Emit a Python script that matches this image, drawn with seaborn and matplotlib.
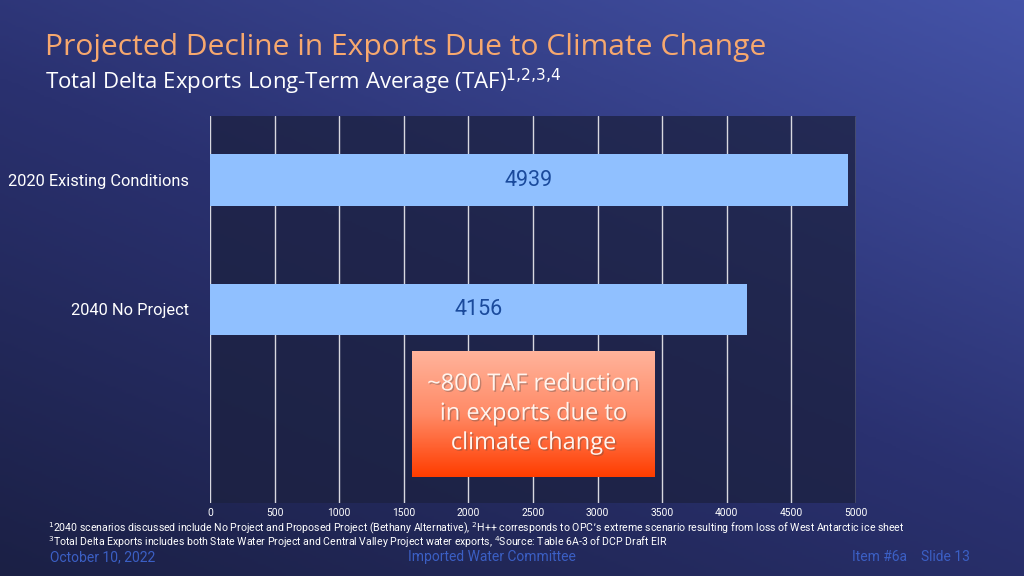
import numpy as np
import pandas as pd
import seaborn as sns
import matplotlib.pyplot as plt
from matplotlib.colors import LinearSegmentedColormap
import matplotlib.patheffects as pe

# dados do gráfico
cenarios = ['2020 Existing Conditions', '2040 No Project']
exportacoes = [4939, 4156]
ticks_x = [0, 500, 1000, 1500, 2000, 2500, 3000, 3500, 4000, 4500, 5000]

df = pd.DataFrame({'cenario': cenarios, 'taf': exportacoes})

sns.set_theme(style='white')
plt.rcParams['font.family'] = ['Roboto', 'DejaVu Sans']

fig = plt.figure(figsize=(10.24, 5.76), dpi=100)

# fundo em degradê (escuro embaixo à esquerda, azul em cima à direita)
bg = fig.add_axes([0, 0, 1, 1], zorder=-10)
gx, gy = np.meshgrid(np.linspace(0, 1, 256), np.linspace(0, 1, 256))
grad = np.clip(0.55 * gx + 0.75 * (1 - gy), 0, 1.3) / 1.3
cmap_bg = LinearSegmentedColormap.from_list('bg', ['#1b2045', '#2a3170', '#4453a8'])
bg.imshow(grad, cmap=cmap_bg, aspect='auto', extent=[0, 1, 0, 1], origin='upper')
bg.axis('off')

ax = fig.add_axes([0.205, 0.127, 0.631, 0.672])
ax.set_facecolor((0.11, 0.13, 0.25, 0.75))

sns.barplot(data=df, x='taf', y='cenario', orient='h', color='#90c0ff',
            width=0.4, saturation=1, ax=ax, zorder=3, edgecolor='none', linewidth=0)

ax.set_xlim(0, 5000)
ax.set_ylim(2.5, -0.5)
ax.set_xticks(ticks_x)
ax.set_xticklabels([str(t) for t in ticks_x], fontsize=7.4, color='white')
ax.tick_params(axis='y', labelsize=11.8, labelcolor='white', length=0, pad=15)
ax.tick_params(axis='x', length=0, pad=4)
ax.grid(axis='x', color='#d8d8e0', linewidth=1, zorder=0)
ax.set_axisbelow(True)
for s in ax.spines.values():
    s.set_visible(False)
ax.set_xlabel('')
ax.set_ylabel('')

# rótulos dos valores no meio das barras
for i, v in enumerate(exportacoes):
    ax.text(v / 2, i, str(v), ha='center', va='center', fontsize=15.5,
            color='#1a4a9c', zorder=5)

# caixa laranja com degradê
cmap_box = LinearSegmentedColormap.from_list('box', ['#ffb39b', '#ff8a66', '#ff3d00'])
ax.imshow(np.linspace(0, 1, 100).reshape(-1, 1), cmap=cmap_box, aspect='auto',
          extent=[1565, 3445, 2.30, 1.325], zorder=6)
ax.text(2505, 1.81, '~800 TAF reduction\nin exports due to\nclimate change',
        ha='center', va='center', fontsize=17, color='#fff4ee', family=['Open Sans', 'DejaVu Sans'],
        linespacing=1.3, zorder=7,
        path_effects=[pe.withSimplePatchShadow(offset=(1, -1), alpha=0.35)])

# títulos
fig.text(0.044, 0.905, 'Projected Decline in Exports Due to Climate Change',
         fontsize=21.6, color='#f7a86e', family=['Open Sans', 'DejaVu Sans'], va='baseline')
fig.text(0.044, 0.845, r'Total Delta Exports Long-Term Average (TAF)$^{1{,}2{,}3{,}4}$',
         fontsize=16, color='white', family=['Open Sans', 'DejaVu Sans'], va='baseline')

# notas de rodapé
fig.text(0.047, 0.084,
         r'$^{1}$2040 scenarios discussed include No Project and Proposed Project (Bethany Alternative), '
         r'$^{2}$H++ corresponds to OPC’s extreme scenario resulting from loss of West Antarctic ice sheet',
         fontsize=7.6, color='white', va='center')
fig.text(0.047, 0.058,
         r'$^{3}$Total Delta Exports includes both State Water Project and Central Valley Project water exports, '
         r'$^{4}$Source: Table 6A-3 of DCP Draft EIR',
         fontsize=7.6, color='white', va='center')

fig.text(0.049, 0.033, 'October 10, 2022', fontsize=10, color='#3b5fc4', va='center')
fig.text(0.48, 0.033, 'Imported Water Committee', fontsize=10, color='#3b5fc4', va='center', ha='center')
fig.text(0.947, 0.033, 'Item #6a    Slide 13', fontsize=10, color='#3b5fc4', va='center', ha='right')

fig.savefig('out.png', dpi=100)
